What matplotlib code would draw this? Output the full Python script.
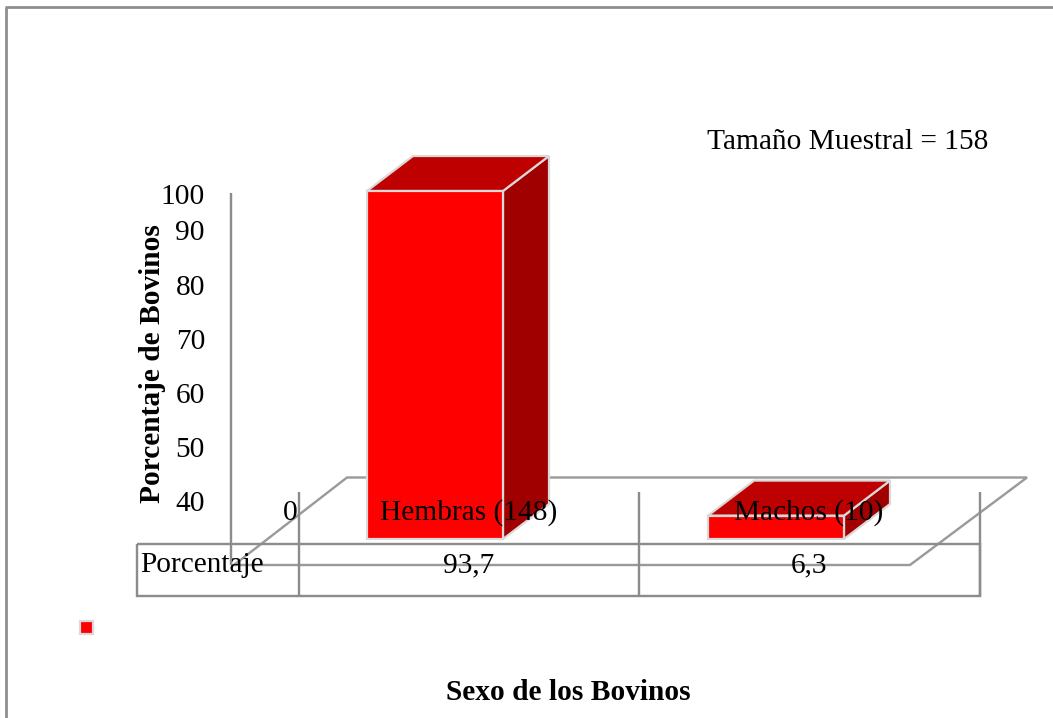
import matplotlib
matplotlib.use("Agg")
import matplotlib.pyplot as plt
from matplotlib.patches import Polygon, Rectangle

categories = ["Hembras (148)", "Machos (10)"]
values = [93.7, 6.3]
value_labels = ["93,7", "6,3"]
tick_labels = ["100", "90", "80", "70", "60", "50", "40", "0"]

W, H = 1053, 718
PX = 72 / 100
plt.rcParams["font.family"] = ["Liberation Serif", "DejaVu Serif"]
fig = plt.figure(figsize=(W / 100, H / 100), dpi=100, facecolor="white")

# pixel-space layer for frame, table and labels
px = fig.add_axes([0, 0, 1, 1], zorder=1)
px.set_xlim(0, W); px.set_ylim(H, 0); px.axis("off")
# data layer for the bars
ax = fig.add_axes([0, 0, 1, 1], zorder=2)
unit_x, unit_y = 341.0, 3.714
ax.set_xlim((0 - 435) / unit_x, (W - 435) / unit_x)
ax.set_ylim((539 - H) / unit_y, 539 / unit_y)
ax.axis("off"); ax.patch.set_alpha(0)
# text layer above bars
tx = fig.add_axes([0, 0, 1, 1], zorder=3)
tx.set_xlim(0, W); tx.set_ylim(H, 0); tx.axis("off"); tx.patch.set_alpha(0)

GRID = "#8c8c8c"
def line(xs, ys, c=GRID, lw=2.4, z=2):
    px.plot(xs, ys, color=c, lw=lw * PX, solid_capstyle="butt", solid_joinstyle="miter", zorder=z)

# outer frame
line([6, 6], [H, 7], "#8f8f8f", 2.8)
line([5, W], [7, 7], "#8f8f8f", 2.8)
# floor and axis
line([231, 231], [193, 565])
line([234, 347, 1027, 910, 231], [565, 477.5, 477.5, 565, 565], "#9a9a9a", 2.4)
# table
line([137, 980, 980, 137, 137], [544, 544, 596, 596, 544])
for x in [299, 639, 980]:
    line([x, x], [492, 596])

# 3D bars
bar_w = 136 / unit_x
dx, dy = 46 / unit_x, 35 / unit_y
EDGE = "#d9d9d9"
EW = 2.2 * PX
for i, v in enumerate(values):
    l, r = i - bar_w / 2, i + bar_w / 2
    ax.add_patch(Polygon([(r, 0), (r + dx, dy), (r + dx, v + dy), (r, v)], fc="#a00000", ec=EDGE, lw=EW))
    ax.add_patch(Polygon([(l, v), (r, v), (r + dx, v + dy), (l + dx, v + dy)], fc="#bf0000", ec=EDGE, lw=EW))
    ax.add_patch(Rectangle((l, 0), bar_w, v, fc="#ff0000", ec=EDGE, lw=EW))

FS = 21.2
tick_y = [197, 233, 288, 342, 396, 450, 504]
for lab, y in zip(tick_labels[:-1], tick_y):
    tx.text(205, y, lab, ha="right", va="center", fontsize=FS, color="black")
tx.text(298, 513, tick_labels[-1], ha="right", va="center", fontsize=FS)

for cx, lab in zip([469, 809], categories):
    tx.text(cx, 513, lab, ha="center", va="center", fontsize=FS)
for cx, lab in zip([469, 809], value_labels):
    tx.text(cx, 565, lab, ha="center", va="center", fontsize=FS)
tx.text(140, 565, "Porcentaje", ha="left", va="center", fontsize=FS)

tx.text(848, 142, "Tamaño Muestral = 158", ha="center", va="center", fontsize=FS)
tx.text(153, 364, "Porcentaje de Bovinos", rotation=90, ha="center", va="center",
        fontsize=FS, fontweight="bold")
tx.text(568, 692, "Sexo de los Bovinos", ha="center", va="center", fontsize=FS, fontweight="bold")

# legend key
tx.add_patch(Rectangle((80, 620.5), 13, 13, fc="#ff0000", ec=EDGE, lw=2.2 * PX))

fig.savefig("out.png", dpi=100, facecolor="white")
